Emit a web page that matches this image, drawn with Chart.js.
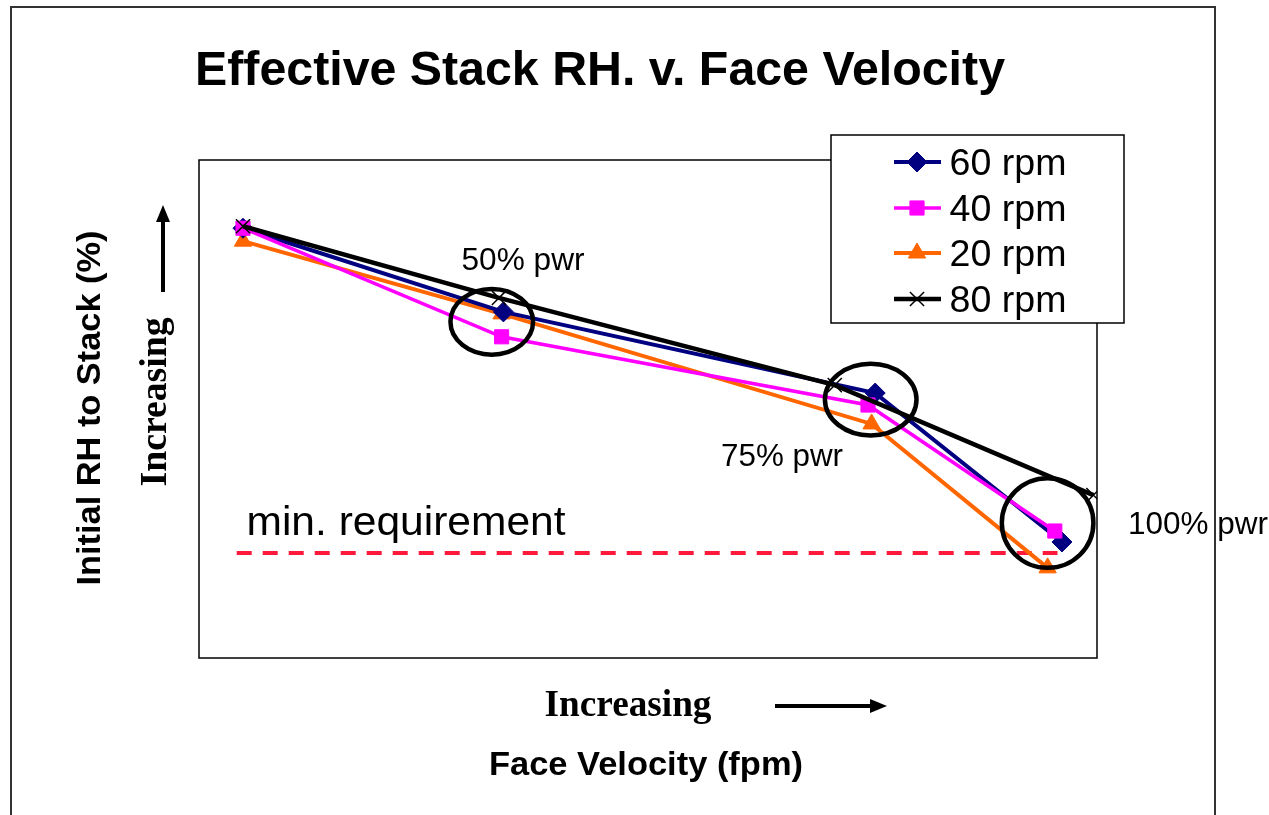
<!DOCTYPE html>
<html lang="en">
<head>
<meta charset="UTF-8">
<script src="https://cdn.jsdelivr.net/npm/chart.js@4.4.1/dist/chart.umd.min.js"></script>
<title>Effective Stack RH. v. Face Velocity</title>
<style>
  html, body { margin: 0; padding: 0; background: #fff; }
  canvas { display: block; }
</style>
</head>
<body>
<canvas id="myChart" width="1269" height="815"></canvas>
<script>
// relative units (0-100), the original chart has no tick labels
const seriesNames = ['60 rpm', '40 rpm', '20 rpm', '80 rpm'];
const vel60 = [4.9, 33.9, 75.3, 96.1];
const rh60 = [86.3, 69.5, 53.2, 23.3];
const vel40 = [4.9, 33.7, 74.5, 95.3];
const rh40 = [86.3, 64.5, 50.8, 25.5];
const vel20 = [4.9, 33.7, 74.9, 94.5];
const rh20 = [83.7, 69.1, 47.0, 18.1];
const vel80 = [4.9, 33.4, 70.8, 99.6];
const rh80 = [86.7, 72.3, 54.8, 32.7];

const minReqLabel = 'min. requirement';
const minReqRange = [4.2, 95.6];
const minReqValue = 21.1;

// circled operating points
const pwrLabels = ['50% pwr', '75% pwr', '100% pwr'];
const circleX = [32.6, 74.8, 94.5];
const circleY = [67.5, 51.9, 27.1];
const circleRx = [4.6, 5.1, 5.1];
const circleRy = [6.6, 7.2, 9.0];

const toPts = (xs, ys) => xs.map((x, i) => ({ x: x, y: ys[i] }));

const SANS = '"Liberation Sans", Arial, sans-serif';
const SERIF = '"Liberation Serif", "Times New Roman", serif';

// draw text squeezed/stretched to a given width
function fitText(ctx, text, cx, y, font, width) {
  ctx.save();
  ctx.font = font;
  ctx.textAlign = 'center';
  const w = ctx.measureText(text).width;
  const sx = width ? width / w : 1;
  ctx.translate(cx, y);
  ctx.scale(sx, 1);
  ctx.fillText(text, 0, 0);
  ctx.restore();
}

function arrow(ctx, x1, y1, x2, y2) {
  const ang = Math.atan2(y2 - y1, x2 - x1);
  const head = 17, half = 7;
  ctx.save();
  ctx.strokeStyle = '#000';
  ctx.fillStyle = '#000';
  ctx.lineWidth = 4;
  ctx.beginPath();
  ctx.moveTo(x1, y1);
  ctx.lineTo(x2 - head * Math.cos(ang), y2 - head * Math.sin(ang));
  ctx.stroke();
  ctx.translate(x2, y2);
  ctx.rotate(ang);
  ctx.beginPath();
  ctx.moveTo(0, 0);
  ctx.lineTo(-head, -half);
  ctx.lineTo(-head, half);
  ctx.closePath();
  ctx.fill();
  ctx.restore();
}

const framePlugin = {
  id: 'frame',
  beforeDatasetsDraw(chart) {
    const ctx = chart.ctx;
    const a = chart.chartArea;
    ctx.save();
    // outer slide frame (no bottom edge)
    ctx.strokeStyle = '#333';
    ctx.lineWidth = 2;
    ctx.beginPath();
    ctx.moveTo(11, 815);
    ctx.lineTo(11, 7);
    ctx.lineTo(1215, 7);
    ctx.lineTo(1215, 815);
    ctx.stroke();
    // plot area border
    ctx.strokeStyle = '#000';
    ctx.lineWidth = 1.5;
    ctx.strokeRect(a.left, a.top, a.right - a.left, a.bottom - a.top);
    ctx.restore();
  }
};

const notesPlugin = {
  id: 'notes',
  afterDatasetsDraw(chart) {
    const ctx = chart.ctx;
    const xs = chart.scales.x, ys = chart.scales.y;
    ctx.save();

    // circles
    ctx.strokeStyle = '#000';
    ctx.lineWidth = 4.5;
    circleX.forEach((cx, i) => {
      const px = xs.getPixelForValue(cx), py = ys.getPixelForValue(circleY[i]);
      const rx = xs.getPixelForValue(cx + circleRx[i]) - px;
      const ry = py - ys.getPixelForValue(circleY[i] + circleRy[i]);
      ctx.beginPath();
      ctx.ellipse(px, py, rx, ry, 0, 0, Math.PI * 2);
      ctx.stroke();
    });

    ctx.fillStyle = '#000';
    // title
    fitText(ctx, 'Effective Stack RH. v. Face Velocity', 600, 85, 'bold 48px ' + SANS, 810);
    // annotation labels
    fitText(ctx, pwrLabels[0], 523, 270, '31px ' + SANS, 123);
    fitText(ctx, pwrLabels[1], 782, 466, '31px ' + SANS, 122);
    fitText(ctx, pwrLabels[2], 1198, 534, '31px ' + SANS, 140);
    fitText(ctx, minReqLabel, 406, 535, '41px ' + SANS, 319);

    // axis titles
    fitText(ctx, 'Increasing', 628, 716, 'bold 37px ' + SERIF, 167);
    arrow(ctx, 775, 706, 887, 706);
    fitText(ctx, 'Face Velocity (fpm)', 646, 775, 'bold 34px ' + SANS, 314);

    ctx.save();
    ctx.translate(100, 408);
    ctx.rotate(-Math.PI / 2);
    fitText(ctx, 'Initial RH to Stack (%)', 0, 0, 'bold 34px ' + SANS, 355);
    ctx.restore();
    ctx.save();
    ctx.translate(166, 402);
    ctx.rotate(-Math.PI / 2);
    fitText(ctx, 'Increasing', 0, 0, 'bold 37px ' + SERIF, 169);
    ctx.restore();
    arrow(ctx, 163, 292, 163, 205);

    // legend box
    const lx = 831, ly = 135, lw = 293, lh = 188;
    ctx.fillStyle = '#fff';
    ctx.fillRect(lx, ly, lw, lh);
    ctx.strokeStyle = '#000';
    ctx.lineWidth = 1.5;
    ctx.strokeRect(lx, ly, lw, lh);
    const rowY = [162, 208, 253, 299];
    seriesNames.forEach((name, i) => {
      const ds = chart.data.datasets[i];
      const y = rowY[i];
      ctx.strokeStyle = ds.borderColor;
      ctx.lineWidth = ds.borderWidth;
      ctx.beginPath();
      ctx.moveTo(894, y);
      ctx.lineTo(941, y);
      ctx.stroke();
      ctx.fillStyle = ds.pointBackgroundColor;
      ctx.strokeStyle = ds.pointBorderColor;
      ctx.lineWidth = ds.pointBorderWidth;
      Chart.helpers.drawPoint(ctx, {
        pointStyle: ds.pointStyle,
        radius: ds.pointRadius,
        borderWidth: ds.pointBorderWidth,
        rotation: 0
      }, 917, y);
      ctx.fillStyle = '#000';
      fitText(ctx, name, 1008, y + 13, '37px ' + SANS, 117);
    });

    ctx.restore();
  }
};

const lineSet = (label, data, color, style, radius, order, width) => ({
  label: label,
  data: data,
  borderColor: color,
  backgroundColor: color,
  borderWidth: width,
  pointStyle: style,
  pointRadius: radius,
  pointBackgroundColor: color,
  pointBorderColor: color,
  pointBorderWidth: style === 'crossRot' ? 1.5 : 1,
  showLine: true,
  tension: 0,
  order: order
});

const ctx = document.getElementById('myChart').getContext('2d');
new Chart(ctx, {
  type: 'scatter',
  data: {
    datasets: [
      lineSet(seriesNames[0], toPts(vel60, rh60), '#000080', 'rectRot', 10, 2, 4),
      lineSet(seriesNames[1], toPts(vel40, rh40), '#ff00ff', 'rect', 10, 1, 3.5),
      lineSet(seriesNames[2], toPts(vel20, rh20), '#ff6600', 'triangle', 10, 3, 4),
      lineSet(seriesNames[3], toPts(vel80, rh80), '#000000', 'crossRot', 10, 0, 4.5),
      {
        label: minReqLabel,
        data: minReqRange.map(x => ({ x: x, y: minReqValue })),
        borderColor: '#ff1a3c',
        borderWidth: 4,
        borderDash: [15, 11],
        pointRadius: 0,
        showLine: true,
        order: 5
      }
    ]
  },
  options: {
    responsive: false,
    animation: false,
    layout: { padding: { left: 199, top: 160, right: 172, bottom: 157 } },
    scales: {
      x: { type: 'linear', min: 0, max: 100, display: false },
      y: { type: 'linear', min: 0, max: 100, display: false }
    },
    plugins: {
      legend: { display: false },
      tooltip: { enabled: false }
    }
  },
  plugins: [framePlugin, notesPlugin]
});
</script>
</body>
</html>
